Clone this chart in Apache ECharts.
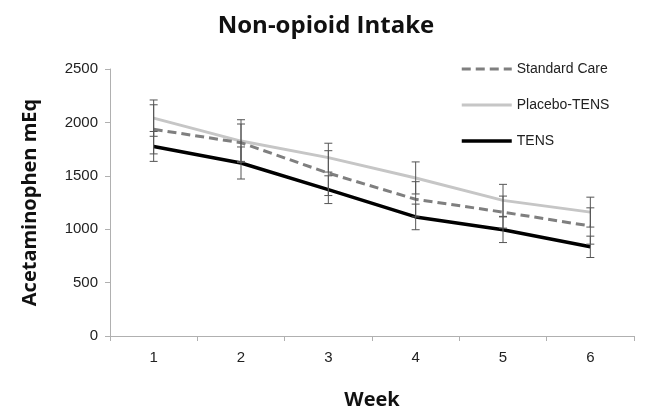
<!DOCTYPE html>
<html><head><meta charset="utf-8">
<script src="https://cdn.jsdelivr.net/npm/echarts@6/dist/echarts.min.js"></script>
<style>html,body{margin:0;padding:0;background:#fff}#c{width:649px;height:415px}</style>
</head><body><div id="c"></div>
<script>
const weeks = ['1','2','3','4','5','6'];
const standardCare = [1935, 1810, 1525, 1280, 1160, 1030];
const standardErr  = [230, 175, 210, 165, 150, 170];
const placeboTens  = [2040, 1825, 1670, 1480, 1270, 1160];
const placeboErr   = [170, 200, 135, 150, 150, 140];
const tens         = [1775, 1620, 1370, 1115, 995, 835];
const tensErr      = [140, 150, 130, 120, 120, 100];

const chart = echarts.init(document.getElementById('c'));
const font = 'Liberation Sans, Arial, sans-serif';
const boldFont = 'Open Sans, Noto Sans, sans-serif';

function errSeries(vals, errs, name) {
  return {
    type: 'custom', name: name + ' err', silent: true, z: 5,
    data: vals.map((v, i) => [i, v - errs[i], v + errs[i]]),
    renderItem: function (params, api) {
      const lo = api.coord([api.value(0), api.value(1)]);
      const hi = api.coord([api.value(0), api.value(2)]);
      const w = 4;
      const st = { stroke: '#555', lineWidth: 1 };
      return { type: 'group', children: [
        { type: 'line', shape: { x1: hi[0], y1: hi[1], x2: lo[0], y2: lo[1] }, style: st },
        { type: 'line', shape: { x1: hi[0] - w, y1: hi[1], x2: hi[0] + w, y2: hi[1] }, style: st },
        { type: 'line', shape: { x1: lo[0] - w, y1: lo[1], x2: lo[0] + w, y2: lo[1] }, style: st }
      ]};
    }
  };
}

chart.setOption({
  animation: false,
  backgroundColor: '#fff',
  title: {
    text: 'Non-opioid Intake', left: 321, top: 9, textAlign: 'center',
    textStyle: { fontFamily: boldFont, fontWeight: 'bold', fontSize: 24, color: '#111' }
  },
  legend: {
    orient: 'vertical', left: 455, top: 57, itemGap: 22,
    itemWidth: 50, itemHeight: 16,
    itemStyle: { opacity: 0 },
    data: [
      { name: 'Standard Care', lineStyle: { width: 3, type: [9, 5], color: '#7f7f7f' } },
      { name: 'Placebo-TENS', lineStyle: { width: 3, color: '#c6c6c6' } },
      { name: 'TENS', lineStyle: { width: 3.5, color: '#000' } }
    ],
    textStyle: { fontFamily: font, fontSize: 14, color: '#222' }
  },
  grid: { left: 110, right: 15, top: 69, bottom: 78, containLabel: false },
  xAxis: {
    type: 'category', data: weeks, boundaryGap: true,
    name: 'Week', nameLocation: 'middle', nameGap: 54,
    nameTextStyle: { fontFamily: boldFont, fontWeight: 'bold', fontSize: 20, color: '#111' },
    axisLine: { lineStyle: { color: '#b0b0b0', width: 1 } },
    axisTick: { show: true, alignWithLabel: false, length: 5, lineStyle: { color: '#b0b0b0' } },
    axisLabel: { fontFamily: font, fontSize: 15, color: '#222', margin: 14 }
  },
  yAxis: {
    type: 'value', min: 0, max: 2500, interval: 500,
    name: 'Acetaminophen mEq', nameLocation: 'middle', nameGap: 70, nameRotate: 90,
    nameTextStyle: { fontFamily: boldFont, fontWeight: 'bold', fontSize: 20, color: '#111' },
    axisLine: { show: true, lineStyle: { color: '#b0b0b0', width: 1 } },
    axisTick: { show: true, length: 5, lineStyle: { color: '#b0b0b0' } },
    axisLabel: { fontFamily: font, fontSize: 15, color: '#222', margin: 12, formatter: v => String(v) },
    splitLine: { show: false }
  },
  series: [
    { name: 'Standard Care', type: 'line', data: standardCare, symbol: 'none', z: 3,
      lineStyle: { color: '#7f7f7f', width: 3, type: [9, 5] }, itemStyle: { color: '#7f7f7f' } },
    { name: 'Placebo-TENS', type: 'line', data: placeboTens, symbol: 'none', z: 2,
      lineStyle: { color: '#c6c6c6', width: 3 }, itemStyle: { color: '#c6c6c6' } },
    { name: 'TENS', type: 'line', data: tens, symbol: 'none', z: 4,
      lineStyle: { color: '#000', width: 3.5 }, itemStyle: { color: '#000' } },
    errSeries(standardCare, standardErr, 'Standard Care'),
    errSeries(placeboTens, placeboErr, 'Placebo-TENS'),
    errSeries(tens, tensErr, 'TENS')
  ]
});
</script></body></html>
